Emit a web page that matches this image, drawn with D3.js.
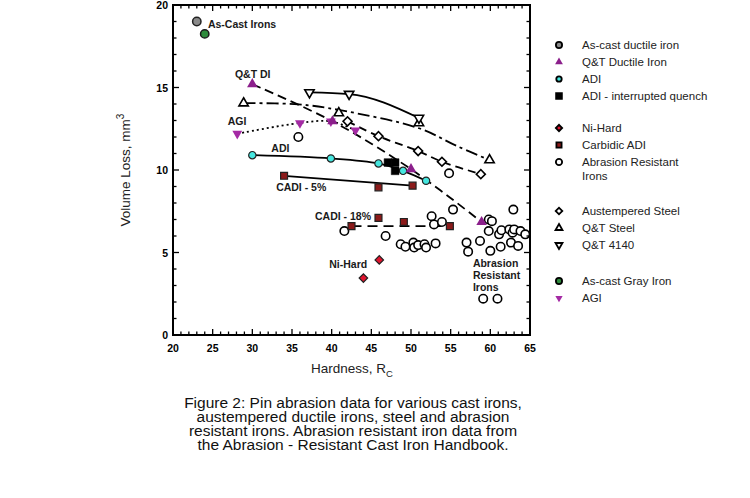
<!DOCTYPE html>
<html>
<head>
<meta charset="utf-8">
<title>Pin abrasion data</title>
<script src="https://d3js.org/d3.v7.min.js"></script>
<style>
  body { margin: 0; background: #fff; }
  svg { display: block; font-family: "Liberation Sans", Arial, sans-serif; }
</style>
</head>
<body>
<svg id="chart" width="750" height="498"></svg>
<script>
// Data: [hardness Rc, volume loss mm3]
const asCastDuctile = [[23.0, 19.0]];
const asCastGray = [[24.0, 18.25]];
const qtDuctile = [[30.0, 15.2], [40.1, 12.95], [50.0, 10.05], [58.9, 6.85]];
const agi = [[28.1, 12.2], [36.0, 12.85], [39.9, 12.95], [43.0, 12.4]];
const adi = [[30.0, 10.9], [39.9, 10.7], [45.9, 10.4], [49.0, 9.95], [51.9, 9.35]];
const adiQuench = [[47.1, 10.45], [48.0, 10.45], [48.0, 9.95]];
const cadi5 = [[34.0, 9.65], [45.9, 8.95], [50.2, 9.05]];
const cadi18 = [[42.5, 6.6], [45.9, 7.1], [49.1, 6.85], [54.9, 6.6]];
const niHard = [[46.0, 4.55], [44.0, 3.45]];
const austSteel = [[42.0, 12.95], [45.9, 12.05], [50.9, 11.15], [53.9, 10.5], [58.8, 9.75]];
const qtSteel = [[28.9, 14.05], [40.9, 13.45], [51.0, 12.85], [59.9, 10.6]];
const qt4140 = [[37.2, 14.7], [42.2, 14.6], [51.0, 13.15]];
const abrasionIrons = [
  [35.8, 12.0], [41.6, 6.3], [46.8, 6.0], [48.7, 5.5], [49.3, 5.35], [50.3, 5.6],
  [50.4, 5.3], [50.9, 5.45], [51.7, 5.5], [51.9, 5.3], [53.1, 5.55], [52.6, 7.2],
  [52.9, 6.7], [53.9, 6.85], [55.3, 7.6], [54.8, 9.8], [57.0, 5.6], [57.2, 5.05],
  [58.7, 5.7], [59.8, 7.0], [60.2, 6.9], [59.8, 6.3], [60.0, 5.1], [61.3, 5.35],
  [61.1, 6.1], [61.4, 6.35], [62.4, 6.4], [62.9, 7.6], [62.8, 6.2], [63.0, 6.4],
  [62.6, 5.6], [63.5, 5.4], [63.8, 6.3], [64.4, 6.1], [59.1, 2.2], [60.9, 2.2]
];

// Trend lines as drawn in the figure
const qtSteelFit = [[28.9, 14.05], [35.8, 13.98], [40.9, 13.64], [51.0, 12.53], [55.8, 11.45], [59.9, 10.6]];
const cadi18Fit = [[42.5, 6.6], [54.9, 6.6]];

// Axis tick labels
const xTicks = [20, 25, 30, 35, 40, 45, 50, 55, 60, 65];
const yTicks = [0, 5, 10, 15, 20];

// Legend entries, in groups
const legendGroups = [
  ["As-cast ductile iron", "Q&T Ductile Iron", "ADI", "ADI - interrupted quench"],
  ["Ni-Hard", "Carbidic ADI", "Abrasion Resistant|Irons"],
  ["Austempered Steel", "Q&T Steel", "Q&T 4140"],
  ["As-cast Gray Iron", "AGI"]
];

const captionLines = [
  "Figure 2: Pin abrasion data for various cast irons,",
  "austempered ductile irons, steel and abrasion",
  "resistant irons. Abrasion resistant iron data from",
  "the Abrasion - Resistant Cast Iron Handbook."
];

const svg = d3.select("#chart");

// plot frame
const plotLeft = 173, plotRight = 530, plotTop = 5, plotBottom = 335;
const x = d3.scaleLinear().domain([20, 65]).range([plotLeft, plotRight]);
const y = d3.scaleLinear().domain([0, 20]).range([plotBottom, plotTop]);

// marker styles
const styles = {
  "As-cast ductile iron": { shape: "circle", size: 55, fill: "#8a8a8a", stroke: "#222", sw: 1.5 },
  "Q&T Ductile Iron": { shape: "up", size: 48, fill: "#8b1f8b", stroke: "none", sw: 0 },
  "ADI": { shape: "circle", size: 42, fill: "#45e6df", stroke: "#222", sw: 1.2 },
  "ADI - interrupted quench": { shape: "square", size: 60, fill: "#000", stroke: "#000", sw: 0.5 },
  "Ni-Hard": { shape: "diamond", size: 36, fill: "#e0142e", stroke: "#222", sw: 1.2 },
  "Carbidic ADI": { shape: "square", size: 48, fill: "#8b1a1a", stroke: "#222", sw: 1.2 },
  "Abrasion Resistant|Irons": { shape: "circle", size: 56, fill: "#fff", stroke: "#000", sw: 1.6 },
  "Austempered Steel": { shape: "diamond", size: 40, fill: "#fff", stroke: "#000", sw: 1.6 },
  "Q&T Steel": { shape: "up", size: 38, fill: "#fff", stroke: "#000", sw: 1.6 },
  "Q&T 4140": { shape: "down", size: 38, fill: "#fff", stroke: "#000", sw: 1.6 },
  "As-cast Gray Iron": { shape: "circle", size: 55, fill: "#2e8b3c", stroke: "#1a1a1a", sw: 1.5 },
  "AGI": { shape: "down", size: 42, fill: "#a42aa4", stroke: "none", sw: 0 }
};

function symbolPath(shape, size) {
  const type = shape === "circle" ? d3.symbolCircle
    : (shape === "up" || shape === "down") ? d3.symbolTriangle
    : d3.symbolSquare;
  return d3.symbol().type(type).size(size)();
}

function rotation(shape) {
  if (shape === "down") return 180;
  if (shape === "diamond") return 45;
  return 0;
}

function drawMarkers(data, name) {
  const s = styles[name];
  svg.append("g")
    .selectAll("path")
    .data(data)
    .join("path")
    .attr("d", symbolPath(s.shape, s.size))
    .attr("transform", d => `translate(${x(d[0])},${y(d[1])}) rotate(${rotation(s.shape)})`)
    .attr("fill", s.fill)
    .attr("stroke", s.stroke)
    .attr("stroke-width", s.sw);
}

function drawLine(data, dash, curve) {
  svg.append("path")
    .datum(data)
    .attr("d", d3.line().x(d => x(d[0])).y(d => y(d[1])).curve(curve || d3.curveLinear))
    .attr("fill", "none")
    .attr("stroke", "#000")
    .attr("stroke-width", 1.8)
    .attr("stroke-dasharray", dash || null);
}

// trend lines
drawLine(qtDuctile, "9,5", d3.curveCatmullRom);
drawLine(qtSteelFit, "12,4,3,4", d3.curveCatmullRom);
drawLine(qt4140, null, d3.curveMonotoneX);
drawLine(austSteel, "8,5", d3.curveCatmullRom);
drawLine(agi, "2,3", d3.curveCatmullRom);
drawLine(adi, null, d3.curveCatmullRom);
drawLine([cadi5[0], cadi5[cadi5.length - 1]], null);
drawLine(cadi18Fit, "10,6");

// markers, open ones first
drawMarkers(abrasionIrons, "Abrasion Resistant|Irons");
drawMarkers(austSteel, "Austempered Steel");
drawMarkers(qtSteel, "Q&T Steel");
drawMarkers(qt4140, "Q&T 4140");
drawMarkers(asCastDuctile, "As-cast ductile iron");
drawMarkers(asCastGray, "As-cast Gray Iron");
drawMarkers(adi, "ADI");
drawMarkers(adiQuench, "ADI - interrupted quench");
drawMarkers(cadi5, "Carbidic ADI");
drawMarkers(cadi18, "Carbidic ADI");
drawMarkers(niHard, "Ni-Hard");
drawMarkers(agi, "AGI");
drawMarkers(qtDuctile, "Q&T Ductile Iron");

// frame and inward ticks on all four sides
const axes = svg.append("g");
axes.append("rect")
  .attr("x", plotLeft).attr("y", plotTop)
  .attr("width", plotRight - plotLeft).attr("height", plotBottom - plotTop)
  .attr("fill", "none").attr("stroke", "#000").attr("stroke-width", 2);

d3.range(20, 66).forEach(v => {
  const len = v % 5 === 0 ? 6 : 3.5;
  axes.append("line").attr("x1", x(v)).attr("x2", x(v)).attr("y1", plotBottom).attr("y2", plotBottom - len)
    .attr("stroke", "#000").attr("stroke-width", 1.3);
  axes.append("line").attr("x1", x(v)).attr("x2", x(v)).attr("y1", plotTop).attr("y2", plotTop + len)
    .attr("stroke", "#000").attr("stroke-width", 1.3);
});
d3.range(0, 21).forEach(v => {
  const len = v % 5 === 0 ? 6 : 3.5;
  axes.append("line").attr("x1", plotLeft).attr("x2", plotLeft + len).attr("y1", y(v)).attr("y2", y(v))
    .attr("stroke", "#000").attr("stroke-width", 1.3);
  axes.append("line").attr("x1", plotRight).attr("x2", plotRight - len).attr("y1", y(v)).attr("y2", y(v))
    .attr("stroke", "#000").attr("stroke-width", 1.3);
});

axes.selectAll("text.xt")
  .data(xTicks)
  .join("text")
  .attr("x", d => x(d))
  .attr("y", plotBottom + 17)
  .attr("text-anchor", "middle")
  .attr("font-size", 10.5)
  .attr("font-weight", "bold")
  .text(d => d);

axes.selectAll("text.yt")
  .data(yTicks)
  .join("text")
  .attr("x", plotLeft - 5)
  .attr("y", d => y(d) + 4)
  .attr("text-anchor", "end")
  .attr("font-size", 10.5)
  .attr("font-weight", "bold")
  .text(d => d);

// axis titles
const xTitle = svg.append("text")
  .attr("x", 352).attr("y", 373)
  .attr("text-anchor", "middle")
  .attr("font-size", 13.5)
  .attr("fill", "#222");
xTitle.append("tspan").text("Hardness, R");
xTitle.append("tspan").attr("dy", 4).attr("font-size", 9.5).text("C");

const yTitle = svg.append("text")
  .attr("transform", "translate(130,170) rotate(-90)")
  .attr("text-anchor", "middle")
  .attr("font-size", 13.5)
  .attr("fill", "#222");
yTitle.append("tspan").text("Volume Loss, mm");
yTitle.append("tspan").attr("dy", -6).attr("font-size", 10).text("3");

// labels inside the plot
const plotLabels = [
  { text: ["As-Cast Irons"], at: [24.4, 18.6] },
  { text: ["Q&T DI"], at: [27.8, 15.6] },
  { text: ["AGI"], at: [26.9, 12.7] },
  { text: ["ADI"], at: [32.4, 11.1] },
  { text: ["CADI - 5%"], at: [33.0, 8.7] },
  { text: ["CADI - 18%"], at: [37.9, 7.0] },
  { text: ["Ni-Hard"], at: [39.7, 4.05] },
  { text: ["Abrasion", "Resistant", "Irons"], at: [57.8, 4.1] }
];
plotLabels.forEach(l => {
  const t = svg.append("text")
    .attr("x", x(l.at[0]))
    .attr("y", y(l.at[1]))
    .attr("font-size", 10.5)
    .attr("font-weight", "bold")
    .attr("fill", "#1a1a1a");
  l.text.forEach((line, i) => {
    t.append("tspan").attr("x", x(l.at[0])).attr("dy", i === 0 ? 0 : 11.8).text(line);
  });
});

// legend
const groupTop = [45, 128, 211, 281];
const legend = svg.append("g");
legendGroups.forEach((group, gi) => {
  let ly = groupTop[gi];
  group.forEach(name => {
    const s = styles[name];
    legend.append("path")
      .attr("d", symbolPath(s.shape, s.size * 0.55))
      .attr("transform", `translate(559,${ly}) rotate(${rotation(s.shape)})`)
      .attr("fill", s.fill)
      .attr("stroke", s.stroke === "none" ? "none" : "#000")
      .attr("stroke-width", s.sw ? 1.8 : 0);
    const parts = name.split("|");
    const t = legend.append("text")
      .attr("x", 582).attr("y", ly + 4)
      .attr("font-size", 11.5)
      .attr("fill", "#222");
    parts.forEach((p, i) => {
      t.append("tspan").attr("x", 582).attr("dy", i === 0 ? 0 : 13.5).text(p);
    });
    ly += 17 + (parts.length - 1) * 13.5;
  });
});

// caption, set tight as in the original
svg.append("text")
  .attr("text-anchor", "middle")
  .attr("font-size", 15.5)
  .attr("fill", "#111")
  .selectAll("tspan")
  .data(captionLines)
  .join("tspan")
  .attr("x", 353)
  .attr("y", (d, i) => 407.5 + i * 14.3)
  .text(d => d);
</script>
</body>
</html>
